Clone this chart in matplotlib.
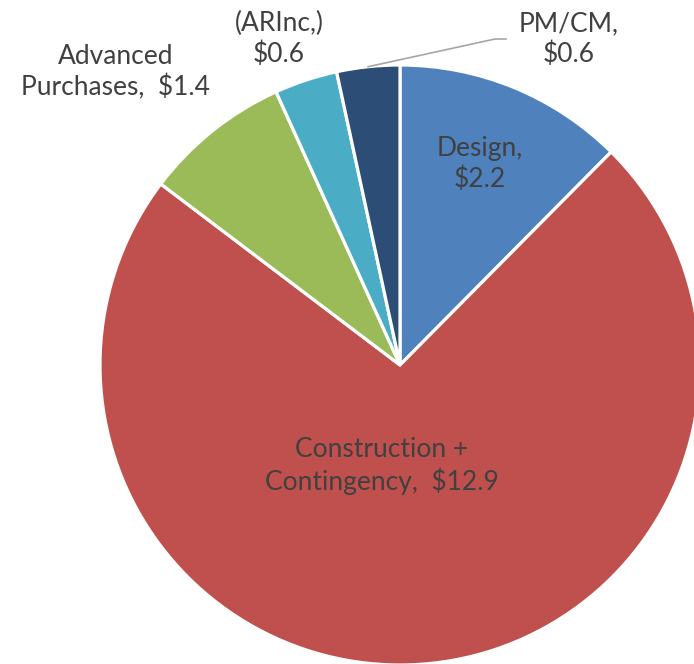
import matplotlib
matplotlib.use("Agg")
import matplotlib.pyplot as plt
import numpy as np

categories = ["Design", "Construction +\nContingency", "Advanced\nPurchases", "(ARInc,)", "PM/CM"]
values = [2.2, 12.9, 1.4, 0.6, 0.6]
label_texts = ["Design,\n\\$2.2", "Construction +\nContingency,  \\$12.9", "Advanced\nPurchases,  \\$1.4",
               "(ARInc,)\n\\$0.6", "PM/CM,\n\\$0.6"]
colors = ["#4F81BD", "#C0504D", "#9BBB59", "#4BACC6", "#2C4D75"]

W, H = 694, 664
fig = plt.figure(figsize=(W / 100, H / 100), dpi=100)
ax = fig.add_axes([0, 0, 1, 1])
cx, cy, r = 400, H - 365, 300
wedges, _ = ax.pie(values, colors=colors, startangle=90, counterclock=False,
                   center=(cx, cy), radius=r, frame=False,
                   wedgeprops=dict(edgecolor="white", linewidth=2.3))
ax.set_xlim(0, W)
ax.set_ylim(0, H)
ax.set_aspect("equal")
ax.set_axis_off()

font = dict(family=["Lato", "DejaVu Sans"], fontsize=19, color="#404040",
            ha="center", va="center", linespacing=1.27)
label_pos = [(480, H - 164), (382, H - 466), (116, H - 72), (279, H - 39), (569, H - 39)]
for t, (x, y) in zip(label_texts, label_pos):
    ax.text(x, y, t, **font)

# leader line for PM/CM
w = wedges[4]
mid = np.deg2rad((w.theta1 + w.theta2) / 2)
px, py = cx + r * np.cos(mid), cy + r * np.sin(mid)
ax.plot([px, 495, 506], [py, H - 39, H - 39], color="#A6A6A6", lw=1.2)

fig.savefig("out.png", dpi=100)
